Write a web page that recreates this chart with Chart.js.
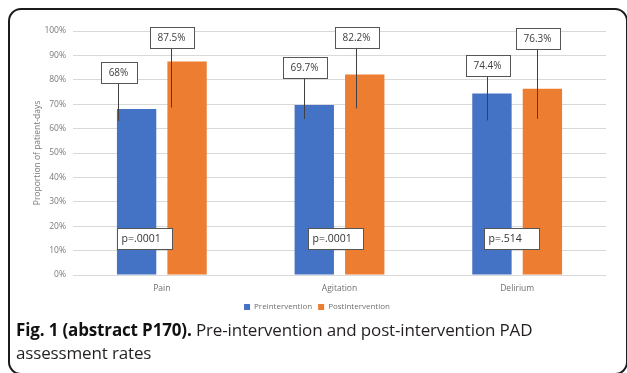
<!DOCTYPE html>
<html>
<head>
<meta charset="utf-8">
<script src="https://cdn.jsdelivr.net/npm/chart.js@4"></script>
<style>
  html, body { margin: 0; padding: 0; background: #fff; }
  body { width: 627px; height: 373px; position: relative; overflow: hidden; }
  #frame { position: absolute; left: 8px; top: 8px; width: 620px; height: 367px; box-sizing: border-box;
           border: 2px solid #1c1c1c; border-radius: 13px; }
  #wrap { position: absolute; left: 0; top: 0; width: 627px; height: 324px; }
  #caption { position: absolute; left: 16px; top: 318px; width: 600px; font-family: "Open Sans", sans-serif;
             font-size: 17px; line-height: 23px; color: #231f20; letter-spacing: -0.15px; }
  #caption b { font-weight: 700; color: #111; }
</style>
</head>
<body>
<div id="frame"></div>
<div id="wrap"><canvas id="c" width="627" height="324"></canvas></div>
<div id="caption"><b>Fig. 1 (abstract P170).</b> Pre-intervention and post-intervention PAD assessment rates</div>
<script>
// ---- data ----
const categories = ["Pain", "Agitation", "Delirium"];
const preValues = [68, 69.7, 74.4];
const postValues = [87.5, 82.2, 76.3];
const preLabels = ["68%", "69.7%", "74.4%"];
const postLabels = ["87.5%", "82.2%", "76.3%"];
const pValues = ["p=.0001", "p=.0001", "p=.514"];
const seriesNames = ["Preintervention", "Postintervention"];
const yTicks = [0, 10, 20, 30, 40, 50, 60, 70, 80, 90, 100];

// ---- callout layout (pixel offsets relative to bar top / center) ----
const calloutLayout = [
  [ {dx: -18.5, boxGap: 26, lineIn: 12}, {dx: -10, boxGap: 27, lineIn: 14}, {dx: -5, boxGap: 17, lineIn: 27} ],
  [ {dx: -16, boxGap: 13.5, lineIn: 46}, {dx: -9, boxGap: 26, lineIn: 34}, {dx: -5, boxGap: 40, lineIn: 30} ]
];
const pBoxLayout = [ {dx: -45}, {dx: -32}, {dx: -33} ];
const pBoxCenterValue = 15;

const calloutPlugin = {
  id: 'callouts',
  afterDatasetsDraw(chart) {
    const ctx = chart.ctx;
    const labelSets = [preLabels, postLabels];
    ctx.save();
    ctx.font = '10px "Open Sans", sans-serif';
    ctx.textBaseline = 'middle';
    for (let d = 0; d < 2; d++) {
      const meta = chart.getDatasetMeta(d);
      meta.data.forEach((bar, j) => {
        const L = calloutLayout[d][j];
        const x = Math.round(bar.x + L.dx) + 0.5;
        const top = bar.y;
        const boxH = 21;
        const txt = labelSets[d][j];
        const tw = ctx.measureText(txt).width;
        const boxW = Math.round(tw + 16);
        const boxBottom = Math.round(top - L.boxGap) + 0.5;
        ctx.strokeStyle = '#404040';
        ctx.lineWidth = 1;
        ctx.beginPath();
        ctx.moveTo(x, boxBottom);
        ctx.lineTo(x, top + L.lineIn);
        ctx.stroke();
        const bx = Math.round(x - boxW / 2) + 0.5;
        ctx.fillStyle = '#fff';
        ctx.fillRect(bx, boxBottom - boxH, boxW, boxH);
        ctx.strokeStyle = '#555';
        ctx.strokeRect(bx, boxBottom - boxH, boxW, boxH);
        ctx.fillStyle = '#404040';
        ctx.textAlign = 'center';
        ctx.fillText(txt, x, boxBottom - boxH / 2);
      });
    }
    const xs = chart.scales.x, ys = chart.scales.y;
    ctx.font = '10.5px "Open Sans", sans-serif';
    pValues.forEach((p, j) => {
      const cx = xs.getPixelForValue(j);
      const cy = ys.getPixelForValue(pBoxCenterValue);
      const bx = Math.round(cx + pBoxLayout[j].dx) + 0.5;
      const boxW = 55, boxH = 21;
      const by = Math.round(cy - boxH / 2) + 0.5;
      ctx.fillStyle = '#fff';
      ctx.fillRect(bx, by, boxW, boxH);
      ctx.strokeStyle = '#555';
      ctx.lineWidth = 1;
      ctx.strokeRect(bx, by, boxW, boxH);
      ctx.fillStyle = '#333';
      ctx.textAlign = 'left';
      ctx.fillText(p, bx + 4, by + boxH / 2);
    });
    ctx.restore();
  }
};

new Chart(document.getElementById('c'), {
  type: 'bar',
  data: {
    labels: categories,
    datasets: [
      { label: seriesNames[0], data: preValues, backgroundColor: '#4472C4', categoryPercentage: 0.568, barPercentage: 0.78 },
      { label: seriesNames[1], data: postValues, backgroundColor: '#ED7D31', categoryPercentage: 0.568, barPercentage: 0.78 }
    ]
  },
  options: {
    responsive: false,
    animation: false,
    layout: { padding: { left: 28, right: 21, top: 31, bottom: 3 } },
    plugins: {
      tooltip: { enabled: false },
      legend: {
        position: 'bottom',
        labels: { boxWidth: 6, boxHeight: 6, padding: 6, color: '#707070',
                  font: { family: '"Open Sans", sans-serif', size: 8 } }
      }
    },
    scales: {
      x: {
        grid: { display: false, drawTicks: false },
        border: { display: false },
        ticks: { color: '#707070', padding: 8, font: { family: '"Open Sans", sans-serif', size: 8.5 } },
        afterFit(s) { s.height = 22; }
      },
      y: {
        min: 0, max: 100,
        afterBuildTicks(s) { s.ticks = yTicks.map(v => ({ value: v })); },
        grid: { color: '#D9D9D9', drawTicks: false },
        border: { display: false },
        ticks: { color: '#7a7a7a', padding: 7, callback: v => v + '%',
                 font: { family: '"Open Sans", sans-serif', size: 8.5 } },
        title: { display: true, text: 'Proportion of patient-days', color: '#7a7a7a',
                 font: { family: '"Open Sans", sans-serif', size: 8.5 }, padding: { top: 4, bottom: 4 } },
        afterFit(s) { s.width = 45; }
      }
    }
  },
  plugins: [calloutPlugin]
});
</script>
</body>
</html>
